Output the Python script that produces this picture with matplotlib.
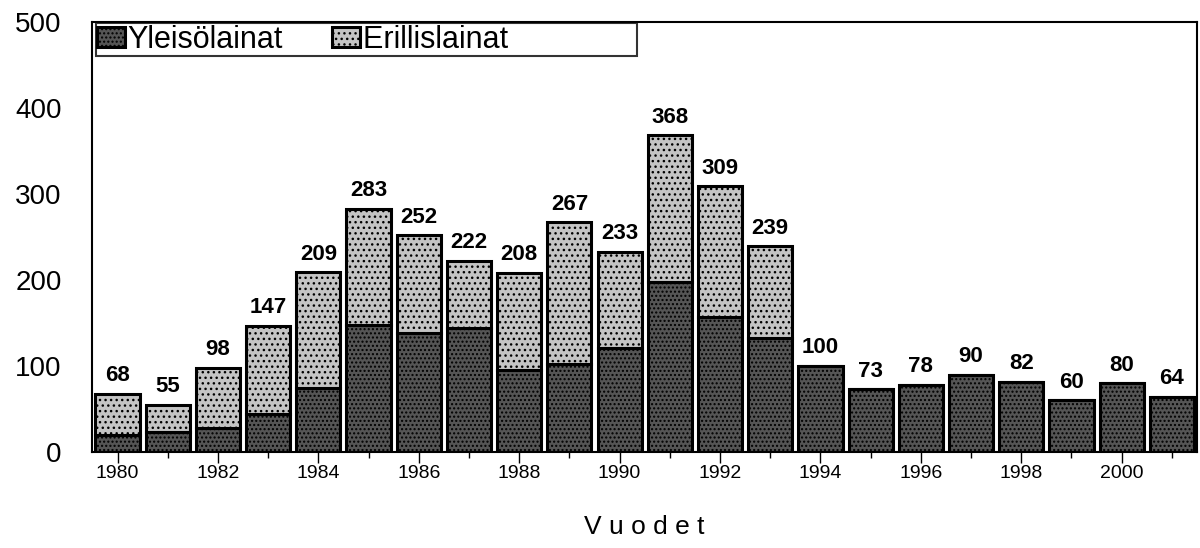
import numpy as np
import matplotlib.pyplot as plt

# ------------------------------
# Data
# ------------------------------
years = list(range(1980, 2002))
totals = [68, 55, 98, 147, 209, 283, 252, 222, 208, 267, 233,
          368, 309, 239, 100, 73, 78, 90, 82, 60, 80, 64]
yleiso = [20, 23, 28, 44, 74, 148, 138, 144, 96, 102, 121,
          198, 157, 133, 100, 73, 78, 90, 82, 60, 80, 64]
erillis = [t - y for t, y in zip(totals, yleiso)]

plt.rcParams['font.family'] = ['Liberation Sans', 'DejaVu Sans']
plt.rcParams['hatch.color'] = "#7a7a7a"

fig = plt.figure(figsize=(12, 5.48), dpi=100)
ax = fig.add_axes([0.077, 0.175, 0.9205, 0.785])

dark = "#555555"
light = "#c4c4c4"

ax.bar(years, yleiso, width=0.88, color=dark, edgecolor="black",
       linewidth=2.2, label="Yleisölainat", hatch="....")
# trailing spaces widen the legend box like in the original
ax.bar(years, erillis, bottom=yleiso, width=0.88, color=light,
       edgecolor="black", linewidth=2.2, label="Erillislainat" + " " * 15,
       hatch="...")

for x, t in zip(years, totals):
    ax.text(x, t + 9, str(t), ha="center", va="bottom",
            fontsize=16, fontweight="bold")

ax.set_xlim(1979.5, 2001.5)
ax.set_ylim(0, 500)
ax.set_yticks([0, 100, 200, 300, 400, 500])
ax.tick_params(axis="y", length=0, labelsize=20, pad=22)
ax.set_xticks(range(1980, 2002, 2))
ax.set_xticks(years, minor=True)
ax.tick_params(axis="x", which="both", direction="out", labelsize=14,
               length=8, width=1, pad=1)
ax.tick_params(axis="x", which="minor", length=4)
for s in ax.spines.values():
    s.set_linewidth(1.5)

ax.set_xlabel("V u o d e t", fontsize=19, labelpad=24)

leg = ax.legend(loc="upper left", ncol=2, fontsize=22, frameon=True,
                fancybox=False, edgecolor="black",
                bbox_to_anchor=(0.003, 0.997), borderaxespad=0.0,
                handlelength=0.9, handleheight=0.6, handletextpad=0.1,
                columnspacing=1.6, borderpad=0.05)
leg.get_frame().set_linewidth(1.5)

fig.savefig("out.png", dpi=100)
